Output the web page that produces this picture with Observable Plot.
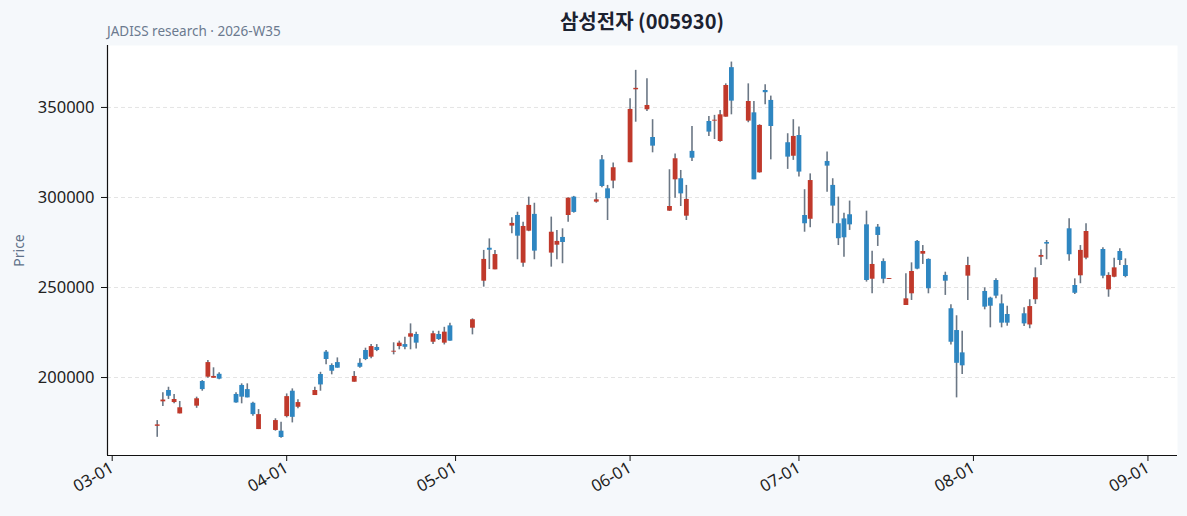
<!DOCTYPE html>
<html>
<head>
<meta charset="utf-8">
<script src="https://cdn.jsdelivr.net/npm/d3@7"></script>
<script src="https://cdn.jsdelivr.net/npm/@observablehq/plot@0.6"></script>
<style>
  html, body { margin: 0; padding: 0; background: #f5f8fb; }
  body { width: 1187px; height: 516px; overflow: hidden; font-family: "Noto Sans", "Noto Sans CJK KR", sans-serif; }
  #header { position: relative; height: 45px; }
  #title { position: absolute; left: 107px; width: 1070px; top: 11px; line-height: 1; text-align: center; font-size: 20px; font-weight: bold; color: #1c2230; font-family: "Noto Sans CJK KR", "Noto Sans", sans-serif; }
  #subtitle { position: absolute; left: 107px; top: 25px; line-height: 1; font-size: 13.5px; color: #6b7a8f; }
  #chart svg { display: block; }
  #chart svg text { font-size: 16.5px; font-family: "Noto Sans", "Noto Sans CJK KR", sans-serif; }
</style>
</head>
<body>
<div id="header">
  <div id="title">삼성전자 (005930)</div>
  <div id="subtitle">JADISS research · 2026-W35</div>
</div>
<div id="chart"></div>
<script>
const dates = ["2026-03-09","2026-03-10","2026-03-11","2026-03-12","2026-03-13",
"2026-03-16","2026-03-17","2026-03-18","2026-03-19","2026-03-20",
"2026-03-23","2026-03-24","2026-03-25","2026-03-26","2026-03-27",
"2026-03-30","2026-03-31","2026-04-01","2026-04-02","2026-04-03",
"2026-04-06","2026-04-07","2026-04-08","2026-04-09","2026-04-10",
"2026-04-13","2026-04-14","2026-04-15","2026-04-16","2026-04-17",
"2026-04-20","2026-04-21","2026-04-22","2026-04-23","2026-04-24",
"2026-04-27","2026-04-28","2026-04-29","2026-04-30",
"2026-05-04","2026-05-06","2026-05-07","2026-05-08",
"2026-05-11","2026-05-12","2026-05-13","2026-05-14","2026-05-15",
"2026-05-18","2026-05-19","2026-05-20","2026-05-21","2026-05-22",
"2026-05-26","2026-05-27","2026-05-28","2026-05-29",
"2026-06-01","2026-06-02","2026-06-04","2026-06-05",
"2026-06-08","2026-06-09","2026-06-10","2026-06-11","2026-06-12",
"2026-06-15","2026-06-16","2026-06-17","2026-06-18","2026-06-19",
"2026-06-22","2026-06-23","2026-06-24","2026-06-25","2026-06-26",
"2026-06-29","2026-06-30","2026-07-01","2026-07-02","2026-07-03",
"2026-07-06","2026-07-07","2026-07-08","2026-07-09","2026-07-10",
"2026-07-13","2026-07-14","2026-07-15","2026-07-16","2026-07-17",
"2026-07-20","2026-07-21","2026-07-22","2026-07-23","2026-07-24",
"2026-07-27","2026-07-28","2026-07-29","2026-07-30","2026-07-31",
"2026-08-03","2026-08-04","2026-08-05","2026-08-06","2026-08-07",
"2026-08-10","2026-08-11","2026-08-12","2026-08-13","2026-08-14",
"2026-08-18","2026-08-19","2026-08-20","2026-08-21",
"2026-08-24","2026-08-25","2026-08-26","2026-08-27","2026-08-28"];

const open = [172900,186500,192800,186100,179800,
184100,197800,200200,199600,201800,
190600,195600,193300,185700,171100,
170600,170200,178300,192400,183500,
190000,201700,214100,206700,208300,
197400,207900,215000,211300,216700,
214100,217200,218300,222400,223900,
219600,223900,219100,228700,
227400,253500,271800,259800,
284100,290000,263500,281300,290600,
269100,273500,277800,290000,300200,
297400,320900,304800,309100,
319300,359800,348700,333300,
292400,309800,310400,289600,325600,
342200,342400,331100,344600,372100,
342400,347000,313700,359400,353900,
330400,322900,334400,290000,287900,
320000,306700,285400,288100,290400,
284800,254600,283500,264400,254500,
240000,246500,275600,268500,265600,
256700,238200,226100,213700,256300,
247800,244100,253900,240900,235000,
235400,229200,243200,266800,275000,
282600,251100,256500,266300,
271100,248700,255700,270000,262200];

const high = [176100,191500,194600,190600,186700,
189100,198300,209400,205400,202600,
191500,196500,196500,186300,182200,
177100,175200,190900,193700,187600,
194600,202900,215000,207600,210900,
203300,210400,216300,218300,218300,
219300,220200,222400,229800,225200,
225700,225700,227900,230200,
232600,270600,277000,270600,
288700,291800,286300,300200,296800,
289100,281700,282600,299800,300600,
302400,323300,306700,319100,
354800,370600,365900,343200,
315400,324200,315000,306700,339400,
345000,345600,348300,363100,375200,
363100,353300,340400,362600,356300,
335400,343200,339100,304300,313100,
325200,310400,300200,291300,298000,
292400,270200,285000,265900,255000,
257600,263700,276100,273300,265900,
258500,240400,234300,225700,266800,
249800,244600,254800,245900,239600,
238700,243200,260900,270900,276100,
288200,254800,273300,285400,
272100,258200,266300,271500,265900];

const low = [166800,183900,187800,185400,179800,
182900,192400,199600,199600,198700,
185700,185400,188700,178500,171100,
170200,166300,177600,174800,182600,
190000,192400,207100,201500,205200,
197400,205200,209400,210400,214400,
212600,215400,215400,215400,215900,
218300,220600,218100,220200,
223700,250200,260000,259800,
279800,265400,261300,281000,265400,
261300,265400,263200,286300,291300,
296800,305400,287200,304800,
319300,341800,347800,324800,
292200,299600,295000,287200,320000,
333900,332200,330700,344600,345900,
341500,309800,313500,351500,320900,
315600,320600,311300,280700,283200,
302900,285400,273300,266800,281700,
253000,246500,272800,252100,254500,
240000,242800,259800,262800,246500,
245600,218100,188700,201700,242800,
237600,227600,243700,227600,228500,
228300,227100,240600,262200,265400,
264600,246100,252100,265400,
254800,244600,255400,262200,255400];

const close = [173700,187500,189600,187800,183200,
188200,193300,208300,200600,199100,
185900,189100,188700,179400,179400,
176100,166700,189400,177900,186100,
192800,195900,210000,203500,205200,
200600,205700,210000,217200,215000,
214600,219100,216800,224300,219100,
224300,221100,225200,220200,
232100,265600,270700,268300,
285600,278500,283900,295600,270200,
280700,275600,275000,299600,291700,
298700,306100,299300,316500,
348900,360600,351100,328500,
295000,321500,302000,298900,321800,
336300,342900,345900,362200,353500,
353300,309800,340000,358200,339400,
322400,333900,314100,285400,309400,
317400,295200,277100,277600,284800,
253900,262800,278900,254600,255000,
243700,258900,260200,270000,249300,
253500,219600,207900,206500,262200,
239100,239600,245200,230200,230200,
229800,239400,255400,267800,274100,
268200,246800,270600,281100,
256300,256700,260900,265000,256100];

const yTicks = [200000, 250000, 300000, 350000];
const xTicks = ["2026-03-01","2026-04-01","2026-05-01","2026-06-01","2026-07-01","2026-08-01","2026-09-01"];

const data = dates.map((d, i) => ({
  date: new Date(d + "T00:00:00Z"),
  open: open[i], high: high[i], low: low[i], close: close[i]
}));

const xDomain = [new Date("2026-02-28T04:00:00Z"), new Date("2026-09-06T06:00:00Z")];
const yDomain = [156700, 384400];

const chart = Plot.plot({
  width: 1187,
  height: 471,
  marginLeft: 107,
  marginRight: 10,
  marginTop: 0,
  marginBottom: 61,
  style: { background: "transparent", fontFamily: "'Noto Sans', 'Noto Sans CJK KR', sans-serif", fontSize: "16.5px", color: "#222" },
  x: { type: "utc", domain: xDomain },
  y: { domain: yDomain },
  marks: [
    Plot.frame({ fill: "white", stroke: "none" }),
    Plot.gridY(yTicks, { stroke: "#e4e4e4", strokeOpacity: 1, strokeDasharray: "4,3", strokeWidth: 1 }),
    Plot.ruleX(data, { x: "date", y1: "low", y2: "high", stroke: "#6b7785", strokeWidth: 1.6 }),
    Plot.ruleX(data, { x: "date", y1: "open", y2: "close", stroke: d => d.close >= d.open ? "#c0392b" : "#2e86c1", strokeWidth: 4.8 }),
    Plot.ruleX([xDomain[0]], { stroke: "#111", strokeWidth: 1.2 }),
    Plot.ruleY([yDomain[0]], { stroke: "#111", strokeWidth: 1.2 }),
    Plot.axisY(yTicks, { tickFormat: "d", tickSize: 6, tickPadding: 7, fontSize: 16.5, stroke: "#111", fill: "#222",
      label: "Price", labelAnchor: "center", labelOffset: 93, labelArrow: "none" }),
    Plot.axisX(xTicks.map(t => new Date(t + "T00:00:00Z")), { tickFormat: d3.utcFormat("%m-%d"), tickSize: 6, tickPadding: 5,
      tickRotate: -30, fontSize: 16.5, stroke: "#111", fill: "#222", label: null })
  ]
});

// style the y-axis label
chart.querySelectorAll("text").forEach(t => {
  if (t.textContent === "Price") { t.setAttribute("fill", "#5f7189"); t.style.fontSize = "14px"; }
});

document.getElementById("chart").appendChild(chart);
</script>
</body>
</html>
